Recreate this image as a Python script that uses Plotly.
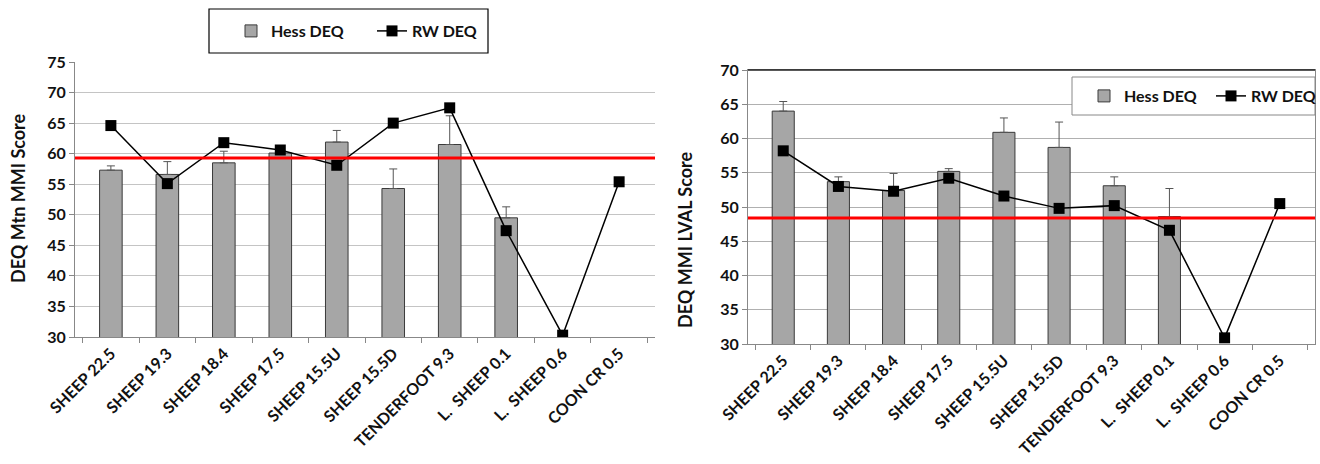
import plotly.graph_objects as go

categories = ["SHEEP 22.5", "SHEEP 19.3", "SHEEP 18.4", "SHEEP 17.5", "SHEEP 15.5U",
              "SHEEP 15.5D", "TENDERFOOT 9.3", "L.  SHEEP 0.1", "L.  SHEEP 0.6", "COON CR 0.5"]

# Left chart: DEQ Mtn MMI Score
mtn_hess = [57.3, 56.6, 58.5, 60.1, 61.9, 54.3, 61.5, 49.5, None, None]
mtn_hess_err = [0.7, 2.1, 1.9, 0.4, 1.9, 3.2, 4.7, 1.8, None, None]
mtn_rw = [64.6, 55.1, 61.8, 60.6, 58.1, 65.0, 67.5, 47.4, 30.3, 55.4]
mtn_threshold = 59.3

# Right chart: DEQ MMI LVAL Score
lval_hess = [64.0, 53.7, 52.4, 55.2, 60.9, 58.7, 53.1, 48.6, None, None]
lval_hess_err = [1.4, 0.7, 2.5, 0.4, 2.1, 3.7, 1.3, 4.1, None, None]
lval_rw = [58.2, 53.0, 52.3, 54.2, 51.6, 49.8, 50.2, 46.6, 30.9, 50.5]
lval_threshold = 48.4

FONT = "Lato"
BAR_COLOR = "#a6a6a6"
BAR_EDGE = "#3a3a3a"
TXT = "#111111"

W, H = 1320, 464

fig = go.Figure()

def add_pair(hess, err, rw, xa, ya, legend):
    fig.add_trace(go.Bar(
        x=categories, y=hess, name="Hess DEQ", xaxis=xa, yaxis=ya,
        marker=dict(color=BAR_COLOR, line=dict(color=BAR_EDGE, width=1)),
        width=0.4,
        error_y=dict(type="data", symmetric=False, array=err,
                     arrayminus=[0 if e is not None else None for e in err],
                     color="#555555", thickness=1, width=4),
        legend=legend,
    ))
    fig.add_trace(go.Scatter(
        x=categories, y=rw, name="RW DEQ", xaxis=xa, yaxis=ya,
        mode="lines+markers",
        line=dict(color="black", width=1.5),
        marker=dict(symbol="square", size=11, color="black"),
        legend=legend,
    ))

add_pair(mtn_hess, mtn_hess_err, mtn_rw, "x", "y", "legend")
add_pair(lval_hess, lval_hess_err, lval_rw, "x2", "y2", "legend2")

tickfont = dict(family=FONT, size=16, color=TXT, weight="bold")
xtickfont = dict(family=FONT, size=16, color=TXT, weight="bold")
legfont = dict(family=FONT, size=16, color=TXT, weight="bold")

common_x = dict(type="category", tickangle=-45, tickfont=xtickfont,
                ticks="outside", tickson="boundaries", ticklen=5, tickcolor="#888888",
                showline=True, linecolor="#888888", linewidth=1, showgrid=False,
                automargin=False)
common_y = dict(dtick=5, tickfont=tickfont, ticks="outside", ticklen=5,
                tickcolor="#888888", showline=True, linecolor="#888888", linewidth=1,
                showgrid=True, gridwidth=1, zeroline=False,
                automargin=False)

fig.update_layout(
    width=W, height=H,
    margin=dict(l=0, r=0, t=0, b=0, autoexpand=False),
    paper_bgcolor="white", plot_bgcolor="white",
    xaxis=dict(domain=[75 / W, 655 / W], anchor="y", **common_x),
    yaxis=dict(domain=[1 - 337 / H, 1 - 62 / H], anchor="x", range=[30, 75],
               gridcolor="#c4c4c4", **common_y),
    xaxis2=dict(domain=[748 / W, 1315 / W], anchor="y2", mirror=True, **common_x),
    yaxis2=dict(domain=[1 - 344 / H, 1 - 70 / H], anchor="x2", range=[30, 70], mirror=True,
                gridcolor="#b0b0b0", **common_y),
    legend=dict(orientation="h", x=231 / W, y=1 - 31 / H, xanchor="left", yanchor="middle",
                borderwidth=0, bgcolor="rgba(0,0,0,0)", font=legfont,
                itemwidth=30, entrywidth=96),
    legend2=dict(orientation="h", x=1084 / W, y=1 - 96 / H, xanchor="left", yanchor="middle",
                 borderwidth=0, bgcolor="rgba(0,0,0,0)", font=legfont,
                 itemwidth=30, entrywidth=82),
    annotations=[
        dict(text="DEQ Mtn MMI Score", xref="paper", yref="paper", x=18 / W, y=1 - 198 / H,
             textangle=-90, showarrow=False, xanchor="center", yanchor="middle",
             font=dict(family=FONT, size=18, color=TXT, weight="bold")),
        dict(text="DEQ MMI LVAL Score", xref="paper", yref="paper", x=685 / W, y=1 - 240 / H,
             textangle=-90, showarrow=False, xanchor="center", yanchor="middle",
             font=dict(family=FONT, size=18, color=TXT, weight="bold")),
    ],
    shapes=[
        dict(type="rect", xref="paper", yref="paper", x0=209 / W, x1=488 / W,
             y0=1 - 53 / H, y1=1 - 9 / H, line=dict(color="black", width=1.2),
             fillcolor="rgba(0,0,0,0)", layer="below"),
        dict(type="rect", xref="paper", yref="paper", x0=1072 / W, x1=1315 / W,
             y0=1 - 115 / H, y1=1 - 77 / H, line=dict(color="#888888", width=1),
             fillcolor="white", layer="above"),
        dict(type="line", xref="x domain", yref="y", x0=0, x1=1,
             y0=mtn_threshold, y1=mtn_threshold, line=dict(color="#ff0000", width=3)),
        dict(type="line", xref="x2 domain", yref="y2", x0=0, x1=1,
             y0=lval_threshold, y1=lval_threshold, line=dict(color="#ff0000", width=3)),
        dict(type="line", xref="x2 domain", yref="y2 domain", x0=0, x1=1,
             y0=1, y1=1, line=dict(color="#222222", width=1.5)),
    ],
)

fig.write_html("out.html", config={"responsive": False, "displayModeBar": False},
               post_script="document.body.style.margin='0';document.body.style.overflow='hidden';")
